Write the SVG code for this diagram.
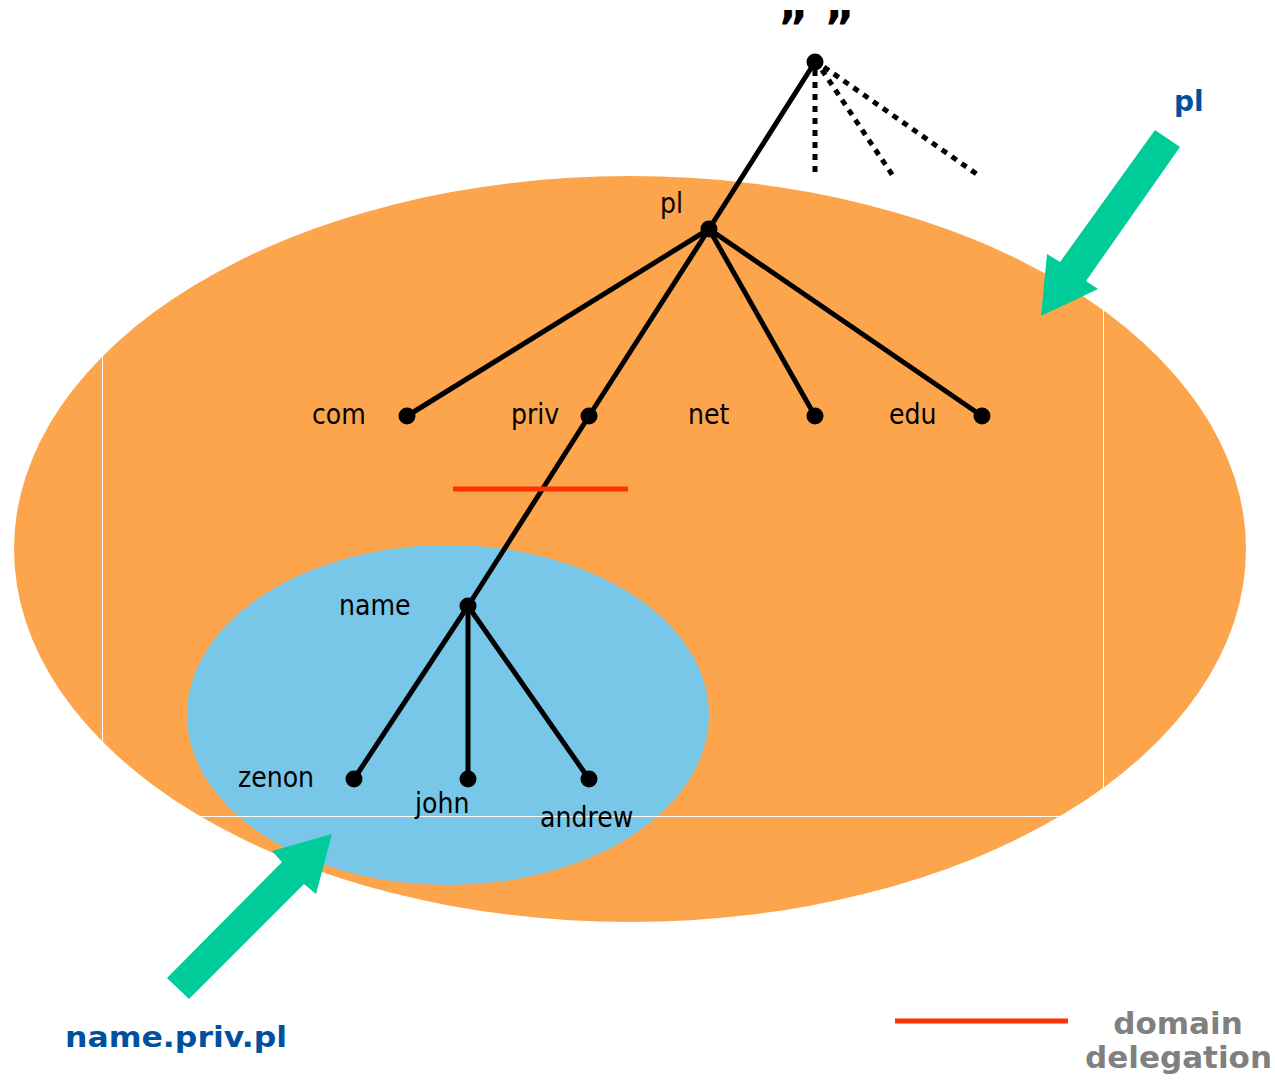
<svg xmlns="http://www.w3.org/2000/svg" width="1275" height="1081" viewBox="0 0 1275 1081">
<style>
.lbl{font-family:"DejaVu Sans Condensed","DejaVu Sans",Tahoma,sans-serif;font-stretch:condensed;font-size:28px;fill:#000}
.edge{stroke:#000;stroke-width:5;fill:none;stroke-linecap:round}
.dot{stroke:#000;stroke-width:5;fill:none;stroke-dasharray:6 6}
.node{fill:#000}
.deleg{stroke:#FF3300;stroke-width:5}
.green{fill:#00CC99}
.blue{font-family:"DejaVu Sans",Verdana,sans-serif;font-weight:bold;fill:#0050A0}
.gray{font-family:"DejaVu Sans",Verdana,sans-serif;font-weight:bold;fill:#808080;font-size:31px}
.wl{stroke:#fff;stroke-width:1}
</style>
<rect width="1275" height="1081" fill="#fff"/>
<g id="zone-pl">
<ellipse cx="630" cy="549" rx="616" ry="373" fill="#FCA54C"/>
</g>
<g id="zone-name">
<ellipse cx="448" cy="715" rx="261" ry="170" fill="#78C6E8"/>
</g>
<g id="frame-lines">
<line class="wl" x1="102.5" y1="355" x2="102.5" y2="742"/>
<line class="wl" x1="1103.5" y1="310" x2="1103.5" y2="790"/>
<line class="wl" x1="200" y1="816.5" x2="1060" y2="816.5"/>
</g>
<g id="connectors">
<line class="edge" x1="815" y1="62" x2="709" y2="229"/>
<line class="dot" x1="815" y1="70" x2="815" y2="175"/>
<line class="dot" x1="822" y1="70" x2="893" y2="176"/>
<line class="dot" x1="824" y1="67" x2="978" y2="175"/>
<line class="edge" x1="709" y1="229" x2="407" y2="416"/>
<line class="edge" x1="709" y1="229" x2="589" y2="416"/>
<line class="edge" x1="709" y1="229" x2="815" y2="416"/>
<line class="edge" x1="709" y1="229" x2="982" y2="416"/>
<line class="edge" x1="589" y1="416" x2="468" y2="606"/>
<line class="edge" x1="468" y1="606" x2="354" y2="779"/>
<line class="edge" x1="468" y1="606" x2="468" y2="779"/>
<line class="edge" x1="468" y1="606" x2="589" y2="779"/>
</g>
<g id="delegation">
<line class="deleg" x1="453" y1="489" x2="628" y2="489"/>
</g>
<g id="node-root">
<circle class="node" cx="815" cy="62" r="8.5"/>
<text x="816" y="44" text-anchor="middle" font-family="DejaVu Sans,sans-serif" font-weight="bold" font-size="46">” ”</text>
</g>
<g id="node-pl"><circle class="node" cx="709" cy="229" r="8.5"/><text class="lbl" x="660" y="213">pl</text></g>
<g id="node-com"><circle class="node" cx="407" cy="416" r="8.5"/><text class="lbl" x="312" y="424">com</text></g>
<g id="node-priv"><circle class="node" cx="589" cy="416" r="8.5"/><text class="lbl" x="511" y="424">priv</text></g>
<g id="node-net"><circle class="node" cx="815" cy="416" r="8.5"/><text class="lbl" x="688" y="424">net</text></g>
<g id="node-edu"><circle class="node" cx="982" cy="416" r="8.5"/><text class="lbl" x="889" y="424">edu</text></g>
<g id="node-name"><circle class="node" cx="468" cy="606" r="8.5"/><text class="lbl" x="339" y="615">name</text></g>
<g id="node-zenon"><circle class="node" cx="354" cy="779" r="8.5"/><text class="lbl" x="238" y="787">zenon</text></g>
<g id="node-john"><circle class="node" cx="468" cy="779" r="8.5"/><text class="lbl" x="415" y="813">john</text></g>
<g id="node-andrew"><circle class="node" cx="589" cy="779" r="8.5"/><text class="lbl" x="540" y="827">andrew</text></g>
<g id="arrow-pl">
<polygon class="green" points="1155,130 1180,147 1086,281 1098,289 1041,316 1047,254 1060,262"/>
<text class="blue" x="1174" y="111" font-size="28">pl</text>
</g>
<g id="arrow-name">
<polygon class="green" points="167,978 282,862 272,851 332,834 316,894 304,884 189,999"/>
<text class="blue" x="65" y="1047" font-size="29" textLength="222" lengthAdjust="spacingAndGlyphs">name.priv.pl</text>
</g>
<g id="legend">
<line class="deleg" x1="895" y1="1021" x2="1068" y2="1021"/>
<text class="gray" x="1178" y="1034" text-anchor="middle">domain</text>
<text class="gray" x="1085" y="1068" textLength="187" lengthAdjust="spacingAndGlyphs">delegation</text>
</g>
</svg>
